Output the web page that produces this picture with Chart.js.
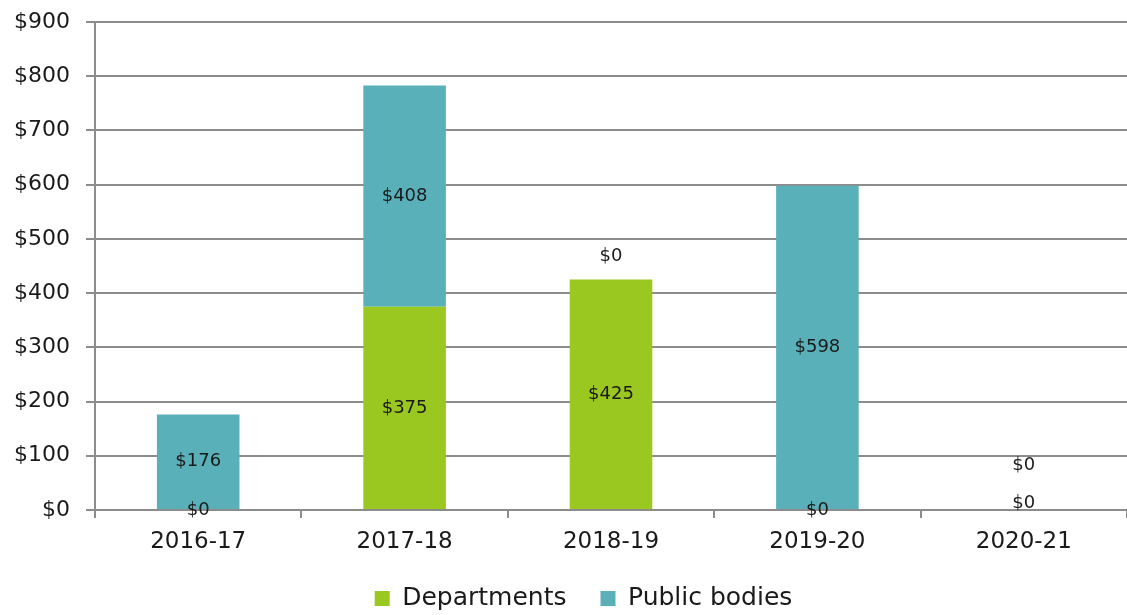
<!DOCTYPE html>
<html>
<head>
<meta charset="utf-8">
<script src="https://cdn.jsdelivr.net/npm/chart.js@4.4.0/dist/chart.umd.min.js"></script>
<style>
html,body{margin:0;padding:0;background:#fff;}
#wrap{width:1127px;height:615px;}
</style>
</head>
<body>
<div id="wrap"><canvas id="c" width="1127" height="615"></canvas></div>
<script>
const categories = ["2016-17", "2017-18", "2018-19", "2019-20", "2020-21"];
const departments = [0, 375, 425, 0, 0];
const publicBodies = [176, 408, 0, 598, 0];
const yTicks = [0, 100, 200, 300, 400, 500, 600, 700, 800, 900];

// pixel nudges for the zero-value labels (layout only)
const zeroNudge = [
  [0, 0, 0, 0, -7],
  [0, 0, -23, 0, -45]
];

const FONT = "'DejaVu Sans', sans-serif";
const GRID = '#8c8c8c';

const labelPlugin = {
  id: 'segLabels',
  afterLayout(chart) {
    if (chart.legend) { chart.legend.left += 20; chart.legend.right += 20; }
  },
  afterDatasetsDraw(chart) {
    const ctx = chart.ctx;
    ctx.save();
    ctx.font = "18px " + FONT;
    ctx.fillStyle = '#1a1a1a';
    ctx.textAlign = 'center';
    ctx.textBaseline = 'middle';
    chart.data.datasets.forEach((ds, di) => {
      const meta = chart.getDatasetMeta(di);
      meta.data.forEach((el, i) => {
        const v = ds.data[i];
        const yc = (el.y + el.base) / 2 + (v === 0 ? zeroNudge[di][i] : 0);
        ctx.fillText('$' + v, el.x, yc);
      });
    });
    ctx.restore();
  }
};

new Chart(document.getElementById('c'), {
  type: 'bar',
  data: {
    labels: categories,
    datasets: [
      { label: 'Departments', data: departments, backgroundColor: '#9bc721', borderWidth: 0, barPercentage: 0.4, categoryPercentage: 1.0 },
      { label: 'Public bodies', data: publicBodies, backgroundColor: '#5ab0b9', borderWidth: 0, barPercentage: 0.4, categoryPercentage: 1.0 }
    ]
  },
  options: {
    responsive: false,
    animation: false,
    layout: { padding: { top: 22, right: 0, left: 0, bottom: -6 } },
    plugins: {
      legend: {
        position: 'bottom',
        labels: {
          font: { family: FONT, size: 25 },
          color: '#1a1a1a',
          boxWidth: 15,
          boxHeight: 15,
          padding: 34
        }
      },
      tooltip: { enabled: false }
    },
    scales: {
      x: {
        stacked: true,
        grid: { offset: true, drawOnChartArea: false, color: GRID, lineWidth: 2, tickLength: 8 },
        border: { color: GRID, width: 2 },
        ticks: { font: { family: FONT, size: 23 }, color: '#1a1a1a', padding: 10 },
        afterFit(s) { s.height = 42; }
      },
      y: {
        stacked: true,
        min: 0, max: 900,
        afterBuildTicks(s) { s.ticks = yTicks.map(v => ({ value: v })); },
        grid: { color: GRID, lineWidth: 2, tickLength: 9 },
        border: { color: GRID, width: 2 },
        ticks: { font: { family: FONT, size: 22 }, color: '#1a1a1a', padding: 16, callback: v => '$' + v },
        afterFit(s) { s.width = 95; s.paddingTop = 0; s.paddingBottom = 0; }
      }
    }
  },
  plugins: [labelPlugin]
});
</script>
</body>
</html>
